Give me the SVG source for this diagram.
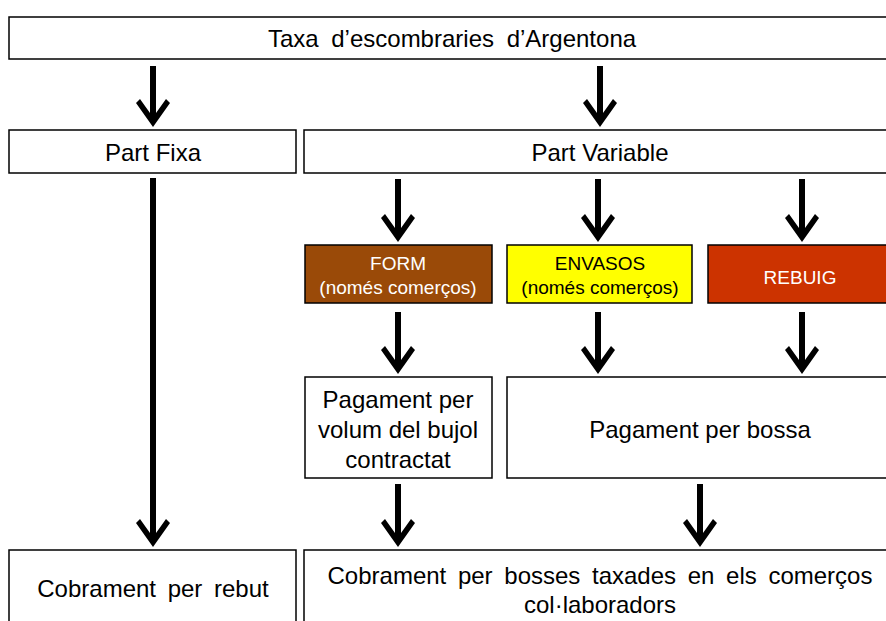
<svg xmlns="http://www.w3.org/2000/svg" width="886" height="621" viewBox="0 0 886 621">
<defs>
<style>
.box{fill:#fff;stroke:#000;stroke-width:1.5}
.t{font-family:"Liberation Sans",Arial,sans-serif;font-size:24px;text-anchor:middle;fill:#000}
.s{font-size:24px}
.c{font-family:"Liberation Sans",Arial,sans-serif;font-size:19px;text-anchor:middle}
.arr{stroke:#000;stroke-width:6;fill:none;marker-end:url(#head)}
</style>
<marker id="head" markerUnits="userSpaceOnUse" markerWidth="40" markerHeight="40" viewBox="-20 -20 40 40" refX="0" refY="0" orient="auto" overflow="visible">
<path d="M12,0 L-12,-17 L-16,-13 L-2,-3 L-2,3 L-16,13 L-12,17 Z" fill="#000"/>
</marker>
</defs>
<rect width="886" height="621" fill="#fff"/>
<g id="connectors">
<line class="arr" x1="153" y1="66" x2="153" y2="115"/>
<line class="arr" x1="600" y1="66" x2="600" y2="115"/>
<line class="arr" x1="153" y1="178" x2="153" y2="535"/>
<line class="arr" x1="398" y1="179" x2="398" y2="230"/>
<line class="arr" x1="598" y1="179" x2="598" y2="230"/>
<line class="arr" x1="802" y1="179" x2="802" y2="230"/>
<line class="arr" x1="398" y1="312" x2="398" y2="362"/>
<line class="arr" x1="598" y1="312" x2="598" y2="362"/>
<line class="arr" x1="802" y1="312" x2="802" y2="362"/>
<line class="arr" x1="398" y1="484" x2="398" y2="535"/>
<line class="arr" x1="700" y1="484" x2="700" y2="535"/>
</g>
<g id="taxa">
<rect class="box" x="9" y="17" width="890" height="42"/>
<text class="t" x="452" y="47" word-spacing="6">Taxa d’escombraries d’Argentona</text>
</g>
<g id="part-fixa">
<rect class="box" x="9" y="130" width="287" height="43"/>
<text class="t" x="153" y="161">Part Fixa</text>
</g>
<g id="part-variable">
<rect class="box" x="304" y="130" width="590" height="43"/>
<text class="t" x="600" y="161">Part Variable</text>
</g>
<g id="form">
<rect x="305" y="245" width="187" height="58" fill="#9A4A08" stroke="#000" stroke-width="1.5"/>
<text class="c" x="398" y="270" fill="#fff">FORM</text>
<text class="c" x="398" y="294" fill="#fff">(només comerços)</text>
</g>
<g id="envasos">
<rect x="507" y="245" width="185" height="58" fill="#FFFF00" stroke="#000" stroke-width="1.5"/>
<text class="c" x="600" y="270" fill="#000">ENVASOS</text>
<text class="c" x="600" y="294" fill="#000">(només comerços)</text>
</g>
<g id="rebuig">
<rect x="708" y="245" width="190" height="58" fill="#CC3300" stroke="#000" stroke-width="1.5"/>
<text class="c" x="800" y="284" fill="#fff">REBUIG</text>
</g>
<g id="pagament-volum">
<rect class="box" x="305" y="377" width="187" height="101"/>
<text class="t s" x="398" y="408">Pagament per</text>
<text class="t s" x="398" y="438">volum del bujol</text>
<text class="t s" x="398" y="468">contractat</text>
</g>
<g id="pagament-bossa">
<rect class="box" x="507" y="377" width="390" height="101"/>
<text class="t s" x="700" y="438">Pagament per bossa</text>
</g>
<g id="cobrament-rebut">
<rect class="box" x="9" y="550" width="287" height="80"/>
<text class="t" x="153" y="597" word-spacing="5">Cobrament per rebut</text>
</g>
<g id="cobrament-bosses">
<rect class="box" x="304" y="550" width="590" height="80"/>
<text class="t" x="600" y="584" word-spacing="5">Cobrament per bosses taxades en els comerços</text>
<text class="t" x="600" y="613">col·laboradors</text>
</g>
</svg>
